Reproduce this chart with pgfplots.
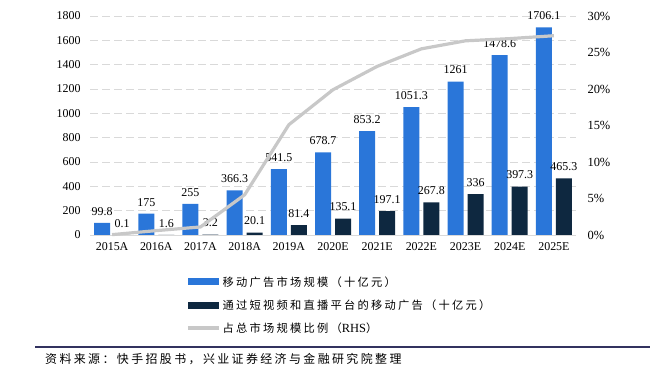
\documentclass[border=0pt]{standalone}
\usepackage{fontspec}
\setmainfont{Liberation Serif}
\newfontfamily\cjksrc{Noto Sans CJK SC}[LetterSpace=20]
\usepackage{pgfplots}
\pgfplotsset{compat=1.18}
\definecolor{blueb}{RGB}{42,118,217}
\definecolor{darkb}{RGB}{14,40,64}
\definecolor{lineg}{RGB}{200,200,200}
\definecolor{gridc}{RGB}{217,217,217}
\definecolor{rulec}{RGB}{50,50,95}
\begin{document}
\begin{tikzpicture}
\path[use as bounding box] (0bp,0bp) rectangle (671bp,381bp);
\begin{axis}[at={(90bp,146bp)}, anchor=south west, scale only axis,
  width=486bp, height=219bp,
  xmin=-0.5, xmax=10.5, ymin=0, ymax=1800,
  ytick={0,200,...,1800},
  xtick={0,...,10},
  xticklabels={2015A,2016A,2017A,2018A,2019A,2020E,2021E,2022E,2023E,2024E,2025E},
  ybar=4bp, bar width=16bp,
  axis x line*=bottom, axis y line*=left,
  y axis line style={draw=none},
  x axis line style={draw=gridc, line width=0.8bp, -},
  tick style={draw=none},
  ymajorgrids, grid style={gridc, dash pattern=on 8bp off 4bp, line width=0.8bp},
  tick label style={font=\fontsize{12}{14}\selectfont},
  yticklabel style={xshift=-6bp},
  /pgf/number format/assume math mode=true,
  /pgf/number format/1000 sep={},
  nodes near coords,
  every node near coord/.append style={font=\fontsize{12}{14}\selectfont, black, yshift=4bp},
  clip=false,
  legend style={at={(axis description cs:0.191,-0.17)}, anchor=north west,
    draw=none, fill=none, row sep=8bp, font=\cjksrc\fontsize{11.3}{13}\selectfont,
    cells={anchor=west}},
  legend cell align=left,
]
\addplot[fill=blueb, draw=none,
  legend image code/.code={\fill[blueb] (0bp,-3.5bp) rectangle (31bp,3.5bp);}]
  coordinates {(0,99.8)(1,175)(2,255)(3,366.3)(4,541.5)(5,678.7)(6,853.2)(7,1051.3)(8,1261)(9,1478.6)(10,1706.1)};
\addlegendentry{移动广告市场规模（十亿元）}
\addplot[fill=darkb, draw=none,
  legend image code/.code={\fill[darkb] (0bp,-3.5bp) rectangle (31bp,3.5bp);}]
  coordinates {(0,0.1)(1,1.6)(2,3.2)(3,20.1)(4,81.4)(5,135.1)(6,197.1)(7,267.8)(8,336)(9,397.3)(10,465.3)};
\addlegendentry{通过短视频和直播平台的移动广告（十亿元）}
\addlegendimage{legend image code/.code={\draw[lineg, line width=3.5bp] (0bp,0bp) -- (31bp,0bp);}}
\addlegendentry{占总市场规模比例（{\rmfamily\fontsize{12.5}{13}\selectfont RHS}）}
\end{axis}
\begin{axis}[at={(90bp,146bp)}, anchor=south west, scale only axis,
  width=486bp, height=219bp,
  xmin=-0.5, xmax=10.5, ymin=0, ymax=30,
  ytick={0,5,...,30},
  axis y line*=right, axis x line=none,
  y axis line style={draw=none},
  tick style={draw=none},
  yticklabel={\pgfmathprintnumber{\tick}\%},
  yticklabel style={xshift=8bp},
  tick label style={font=\fontsize{12.5}{14}\selectfont},
  /pgf/number format/assume math mode=true,
  clip=false,
]
\addplot[lineg, line width=3.2bp, line join=round]
  coordinates {(0,0.05)(1,0.6)(2,1.1)(3,5.5)(4,15.1)(5,19.9)(6,23.1)(7,25.5)(8,26.6)(9,26.9)(10,27.3)};
\end{axis}
\draw[rulec, line width=1.5bp] (35bp,34bp) -- (650bp,34bp);
\node[anchor=west, inner sep=0pt] at (45bp,22bp) {\cjksrc\fontsize{12}{14}\selectfont 资料来源：快手招股书，兴业证券经济与金融研究院整理};
\end{tikzpicture}
\end{document}
